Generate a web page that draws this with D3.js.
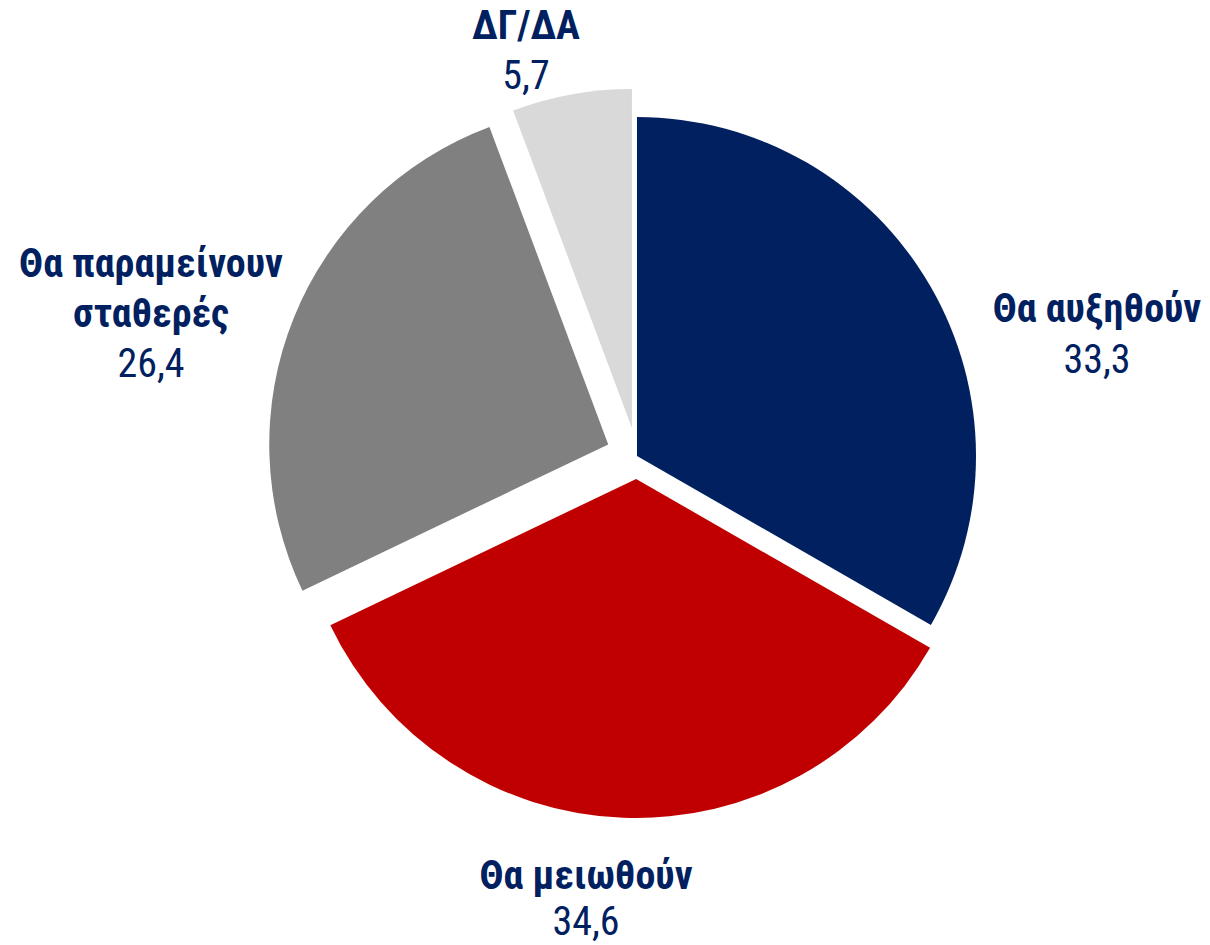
<!DOCTYPE html>
<html><head><meta charset="utf-8">
<script src="https://cdn.jsdelivr.net/npm/d3@7"></script>
<style>
html,body{margin:0;padding:0;background:#fff;}
svg{display:block;}
text{font-family:"Liberation Sans Narrow","Arial Narrow","Roboto Condensed","Liberation Sans",sans-serif;fill:#002060;}
</style></head>
<body>
<svg id="chart" width="1210" height="945"></svg>
<script>
// ---- data ----
const categories = ["Θα αυξηθούν", "Θα μειωθούν", "Θα παραμείνουν σταθερές", "ΔΓ/ΔΑ"];
const values = [33.3, 34.6, 26.4, 5.7];
const valueLabels = ["33,3", "34,6", "26,4", "5,7"];

// ---- layout / style (not data) ----
const colors = ["#002060", "#C00000", "#808080", "#D9D9D9"];
const explode = [0, 23, 31, 28.5];
const labelLines = [["Θα αυξηθούν"], ["Θα μειωθούν"], ["Θα παραμείνουν", "σταθερές"], ["ΔΓ/ΔΑ"]];
const labelPos = [
  {x: 1097, y: 322, dy: 51},
  {x: 586, y: 889, dy: 46},
  {x: 151, y: 277, dy: 50},
  {x: 526, y: 39, dy: 50}
];
const cx = 637, cy = 456, radius = 339;

const svg = d3.select("#chart");
const pie = d3.pie().sort(null).value(d => d)(values);
const arc = d3.arc().innerRadius(0).outerRadius(radius);

const g = svg.append("g").attr("transform", `translate(${cx},${cy})`);
g.selectAll("path").data(pie).join("path")
  .attr("d", arc)
  .attr("fill", (d, i) => colors[i])
  .attr("transform", (d, i) => {
    const a = (d.startAngle + d.endAngle) / 2;
    return `translate(${explode[i] * Math.sin(a)},${-explode[i] * Math.cos(a)})`;
  });

const labels = svg.append("g");
categories.forEach((c, i) => {
  const p = labelPos[i];
  const t = labels.append("text").attr("text-anchor", "middle").attr("font-size", 40);
  const lines = labelLines[i];
  lines.forEach((ln, k) => {
    t.append("tspan").attr("x", p.x).attr("y", p.y + k * p.dy)
      .attr("font-weight", "bold").text(ln);
  });
  t.append("tspan").attr("x", p.x).attr("y", p.y + lines.length * p.dy)
    .text(valueLabels[i]);
});
</script>
</body></html>
